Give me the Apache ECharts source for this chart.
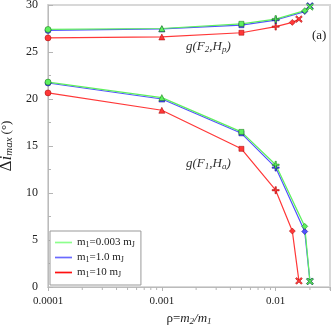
<!DOCTYPE html>
<html><head><meta charset="utf-8">
<script src="https://cdn.jsdelivr.net/npm/echarts@6/dist/echarts.min.js"></script>
<style>html,body{margin:0;padding:0;background:#fff}#c{width:333px;height:327px}</style>
</head><body><div id="c"></div>
<script>
// Data
const rhoGB = [0.0001, 0.001, 0.005, 0.01, 0.018, 0.02];
const rhoR  = [0.0001, 0.001, 0.005, 0.01, 0.014, 0.016];
const upGreen = [27.4, 27.5, 28.0, 28.5, 29.4, 29.8];
const upBlue  = [27.3, 27.45, 27.85, 28.4, 29.3, 29.9];
const upRed   = [26.5, 26.6, 27.05, 27.7, 28.15, 28.5];
const loGreen = [21.8, 20.15, 16.5, 13.0, 6.45, 0.6];
const loBlue  = [21.7, 20.0, 16.35, 12.7, 5.9, 0.6];
const loRed   = [20.65, 18.8, 14.7, 10.3, 5.95, 0.65];
const xMinorTicks = [0.0002,0.0003,0.0004,0.0005,0.0006,0.0007,0.0008,0.0009,
  0.002,0.003,0.004,0.005,0.006,0.007,0.008,0.009,0.02,0.03];
const xTickLabels = ['0.0001', '0.001', '0.01'];

const PLUS = 'path://M4,0H6V4H10V6H6V10H4V6H0V4H4Z';
const markers = [
  {symbol:'circle', size:6},
  {symbol:'triangle', size:6},
  {symbol:'rect', size:5},
  {symbol:PLUS, size:7},
  {symbol:'diamond', size:6},
  {symbol:PLUS, size:8, rotate:45}
];
const FONT = 'Liberation Serif';

function mk(name, xs, ys, color, edge) {
  return {
    name, type:'line', data: xs.map((x,i)=>({
      value:[x, ys[i]], symbol:markers[i].symbol, symbolSize:markers[i].size,
      symbolRotate: markers[i].rotate || 0
    })),
    lineStyle:{color, width:1.2}, itemStyle:{color, borderColor:edge, borderWidth:0.5},
    symbolKeepAspect:true, showAllSymbol:true, animation:false, z:3
  };
}
const nG='m1=0.003 mJ', nB='m1=1.0 mJ', nR='m1=10 mJ';
const cG='#5ef05e', cB='#5252ff', cR='#ff3838';
const series = [
  mk(nR, rhoR, upRed, cR, '#a00000'),
  mk(nR, rhoR, loRed, cR, '#a00000'),
  mk(nB, rhoGB, upBlue, cB, '#000080'),
  mk(nB, rhoGB, loBlue, cB, '#000080'),
  mk(nG, rhoGB, upGreen, cG, '#107010'),
  mk(nG, rhoGB, loGreen, cG, '#107010'),
  {
    type:'custom', data: xMinorTicks.map(v=>[v,0]), silent:true, clip:false, z:5,
    renderItem:(p, api)=>{
      const c = api.coord([api.value(0), 0]);
      return {type:'line', shape:{x1:c[0], y1:c[1], x2:c[0], y2:c[1]+3}, style:{stroke:'#b5b5b5', lineWidth:1}};
    }
  }
];
const legendLabels = {};
legendLabels[nG] = 'm{s|1}=0.003 m{s|J}';
legendLabels[nB] = 'm{s|1}=1.0 m{s|J}';
legendLabels[nR] = 'm{s|1}=10 m{s|J}';
const legendColors = {};
legendColors[nG] = '#8cff8c'; legendColors[nB] = '#6a6aff'; legendColors[nR] = '#ff1010';

function fmtX(v){
  const e = Math.round(Math.log10(v));
  return (Math.abs(Math.log10(v)-e) < 1e-6 && e>=-4 && e<=-2) ? xTickLabels[e+4] : '';
}

const chart = echarts.init(document.getElementById('c'), null, {renderer:'canvas'});
chart.setOption({
  animation:false,
  textStyle:{fontFamily:FONT},
  grid:{left:48, top:5, right:3, bottom:40, show:true, borderColor:'#d8d8d8', borderWidth:2, outerBoundsMode:'none', containLabel:false},
  legend:{
    orient:'vertical', left:50, top:231,
    data:[nG, nB, nR].map(n=>({name:n, itemStyle:{color:legendColors[n], borderWidth:0}})),
    icon:'path://M0,0H20V2H0Z', itemWidth:17, itemHeight:2, itemGap:3,
    itemStyle:{borderWidth:0},
    borderColor:'#999', borderWidth:1, padding:[6,6,6,5], backgroundColor:'#fff',
    formatter: n => legendLabels[n],
    textStyle:{fontFamily:FONT, fontSize:11, color:'#222', rich:{s:{fontSize:8, fontFamily:FONT, padding:[5,0,0,0], color:'#222'}}}
  },
  xAxis:{
    type:'log', min:0.0001, max:0.03, logBase:10,
    axisLine:{show:true, lineStyle:{color:'#bbb'}},
    axisTick:{show:true, length:4, lineStyle:{color:'#b5b5b5'}},
    splitLine:{show:false},
    axisLabel:{fontFamily:FONT, fontSize:11, color:'#222', margin:9, formatter: fmtX},
    name:'ρ={i|m}{s|2}{i|/m}{s|1}', nameLocation:'middle', nameGap:23,
    nameTextStyle:{fontFamily:FONT, fontSize:13, color:'#222',
      rich:{i:{fontStyle:'italic', fontFamily:FONT, fontSize:13, color:'#222'},
            s:{fontStyle:'italic', fontFamily:FONT, fontSize:9, color:'#222', padding:[6,0,0,0]}}}
  },
  yAxis:{
    type:'value', min:0, max:30, interval:5,
    axisLine:{show:true, lineStyle:{color:'#bbb'}},
    axisTick:{show:true, inside:true, length:5, lineStyle:{color:'#b5b5b5'}},
    minorTick:{show:true, splitNumber:2, length:3, lineStyle:{color:'#b5b5b5'}},
    splitLine:{show:false},
    axisLabel:{fontFamily:FONT, fontSize:12, color:'#222', margin:10},
    name:'{b|Δ}{bi|i}{s|max} {n|(°)}', nameLocation:'middle', nameGap:30, nameRotate:90,
    nameTextStyle:{fontFamily:FONT, color:'#222',
      rich:{b:{fontFamily:FONT, fontSize:17, color:'#222'},
            bi:{fontFamily:FONT, fontSize:17, fontStyle:'italic', color:'#222'},
            s:{fontFamily:FONT, fontSize:11, fontStyle:'italic', color:'#222', padding:[7,0,0,0]},
            n:{fontFamily:FONT, fontSize:13, color:'#222'}}}
  },
  graphic:[
    {type:'text', left:186, top:40, z:10, style:{text:'g(F{s|2},H{s|p})', fontFamily:FONT, fontSize:13, fontStyle:'italic', fill:'#333',
      rich:{s:{fontFamily:FONT, fontSize:9, fontStyle:'italic', fill:'#333', padding:[6,0,0,0]}}}},
    {type:'text', left:186, top:157, z:10, style:{text:'g(F{s|1},H{s|a})', fontFamily:FONT, fontSize:13, fontStyle:'italic', fill:'#333',
      rich:{s:{fontFamily:FONT, fontSize:9, fontStyle:'italic', fill:'#333', padding:[6,0,0,0]}}}},
    {type:'text', left:312, top:29, z:10, style:{text:'(a)', fontFamily:FONT, fontSize:13, fill:'#222'}}
  ],
  series
});
</script></body></html>
